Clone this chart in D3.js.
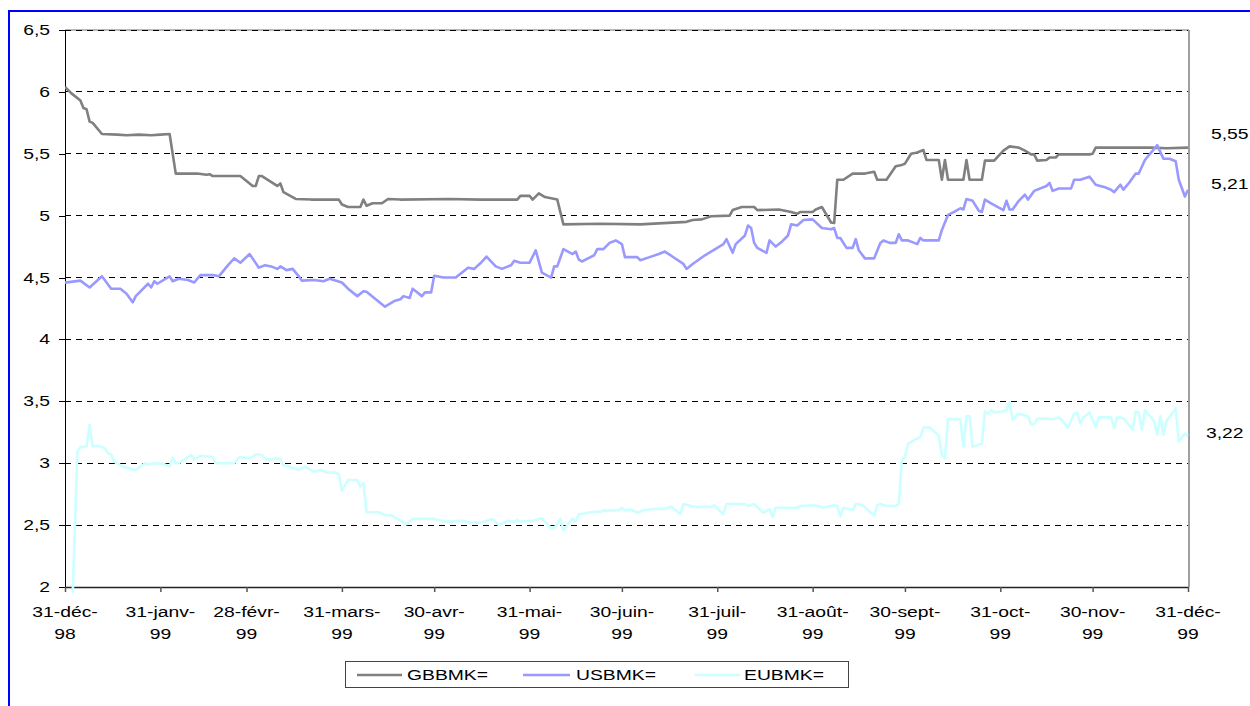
<!DOCTYPE html>
<html><head><meta charset="utf-8">
<script src="https://cdn.jsdelivr.net/npm/d3@7"></script>
<style>
body{margin:0;background:#fff;}
svg{display:block;}
text{font-family:"Liberation Sans",Arial,sans-serif;font-size:14px;fill:#000;}
</style>
</head><body>
<svg id="chart" width="1250" height="706"></svg>
<script>
// ---------- data ----------
const startDate = "1998-12-31";
const endDate = "1999-12-31";
const tickDates = ["1998-12-31","1999-01-31","1999-02-28","1999-03-31","1999-04-30","1999-05-31",
  "1999-06-30","1999-07-31","1999-08-31","1999-09-30","1999-10-31","1999-11-30","1999-12-31"];
const tickLabels = [["31-déc-","98"],["31-janv-","99"],["28-févr-","99"],["31-mars-","99"],["30-avr-","99"],
  ["31-mai-","99"],["30-juin-","99"],["31-juil-","99"],["31-août-","99"],["30-sept-","99"],
  ["31-oct-","99"],["30-nov-","99"],["31-déc-","99"]];
const yTicks = [2,2.5,3,3.5,4,4.5,5,5.5,6,6.5];
const seriesNames = ["GBBMK=","USBMK=","EUBMK="];
const seriesColors = ["#808080","#9999FF","#CCFFFF"];
const lastValueLabels = ["5,55","5,21","3,22"];

// days counted from 31-déc-98
const gbDays = [0,2,5,6,7,8,9,12,17,20,24,28,31,34,36,43,46,47,48,57,61,62,63,64,69,70,71,75,80,89,
  90,92,96,97,98,100,103,105,109,125,135,147,148,151,152,154,156,160,162,174,187,202,204,207,210,216,217,220,224,225,
  232,236,238,239,243,244,246,249,250,251,253,256,260,263,264,267,270,272,273,275,277,279,280,284,285,286,287,292,293,294,
  298,299,302,305,307,310,312,314,315,316,319,320,322,323,333,334,335,353,358,365];
const gbValues = [6.04,5.99,5.93,5.87,5.86,5.76,5.75,5.66,5.655,5.65,5.655,5.65,5.655,5.66,5.34,5.34,5.33,5.335,5.32,5.32,
  5.24,5.24,5.32,5.32,5.24,5.26,5.19,5.135,5.13,5.13,5.09,5.07,5.07,5.13,5.08,5.10,5.10,5.135,5.13,5.135,
  5.13,5.13,5.16,5.16,5.13,5.18,5.15,5.13,4.93,4.935,4.93,4.95,4.965,4.97,4.995,5.0,5.045,5.07,5.07,5.045,
  5.05,5.03,5.015,5.03,5.03,5.05,5.07,4.945,4.94,5.29,5.29,5.34,5.34,5.355,5.29,5.29,5.40,5.41,5.42,5.50,
  5.51,5.53,5.45,5.45,5.29,5.45,5.29,5.29,5.45,5.29,5.29,5.445,5.445,5.525,5.56,5.55,5.525,5.495,5.495,5.445,
  5.45,5.47,5.47,5.495,5.495,5.50,5.55,5.55,5.545,5.55];

const usDays = [0,5,8,12,15,18,20,22,23,27,28,29,30,34,35,37,40,42,44,48,50,53,55,57,60,63,65,67,69,70,
  72,74,76,77,81,84,86,90,92,95,97,98,104,107,109,110,112,113,116,117,119,120,123,127,131,133,135,137,140,142,
  145,146,148,151,153,155,158,159,160,162,165,166,167,168,170,172,173,175,177,179,181,182,186,187,190,193,195,198,201,202,
  204,208,210,212,214,215,217,218,221,222,223,224,225,228,229,231,233,235,236,238,240,243,246,249,250,251,252,254,256,257,
  258,260,263,265,266,268,270,271,272,274,275,277,278,279,284,285,287,289,291,292,293,295,297,298,299,301,305,306,307,308,
  310,312,313,315,319,320,321,323,327,328,330,333,335,338,340,341,343,344,346,348,349,351,355,357,359,361,362,364,365];
const usValues = [4.459,4.475,4.42,4.51,4.41,4.41,4.37,4.30,4.35,4.45,4.42,4.47,4.45,4.51,4.47,4.49,4.48,4.46,4.52,4.52,
  4.51,4.60,4.655,4.62,4.69,4.58,4.60,4.59,4.57,4.59,4.56,4.57,4.51,4.475,4.48,4.47,4.49,4.46,4.41,4.35,
  4.39,4.385,4.265,4.31,4.325,4.35,4.335,4.41,4.35,4.38,4.38,4.515,4.50,4.50,4.58,4.57,4.615,4.67,4.59,4.57,
  4.60,4.635,4.62,4.62,4.72,4.54,4.50,4.59,4.59,4.73,4.69,4.71,4.645,4.63,4.655,4.68,4.73,4.73,4.78,4.80,
  4.77,4.665,4.665,4.64,4.665,4.69,4.71,4.66,4.61,4.57,4.61,4.68,4.71,4.74,4.77,4.81,4.70,4.77,4.84,4.92,
  4.90,4.78,4.74,4.70,4.80,4.75,4.79,4.84,4.93,4.92,4.965,4.97,4.90,4.89,4.90,4.82,4.82,4.74,4.74,4.81,
  4.72,4.655,4.655,4.78,4.80,4.78,4.78,4.85,4.80,4.80,4.79,4.77,4.82,4.80,4.80,4.885,5.006,5.03,5.06,5.05,
  5.135,5.12,5.04,5.03,5.13,5.10,5.045,5.12,5.05,5.05,5.12,5.17,5.13,5.20,5.24,5.265,5.20,5.22,5.22,5.29,
  5.29,5.315,5.25,5.23,5.21,5.19,5.25,5.21,5.27,5.34,5.34,5.45,5.57,5.46,5.46,5.44,5.29,5.155,5.21];

const euDays = [0,4,5,7,8,9,11,13,14,15,16,19,21,22,23,26,27,29,32,34,35,36,37,41,42,44,48,49,55,56,
  57,60,62,64,65,67,69,70,71,72,76,78,81,83,85,88,89,90,92,95,96,97,98,102,104,106,111,113,120,124,
  129,132,135,139,141,144,146,147,148,152,155,158,159,161,162,165,166,167,170,173,174,175,176,180,181,182,184,186,188,191,
  195,197,200,201,204,206,208,210,211,214,215,221,222,224,227,229,230,231,238,239,243,245,246,250,251,252,253,256,257,259,
  263,264,265,267,270,271,272,273,274,277,278,279,281,284,285,286,287,291,292,293,294,295,298,299,300,301,302,305,306,307,
  308,310,313,314,315,316,319,321,323,324,326,328,329,330,331,333,335,336,340,341,342,344,347,348,349,350,351,354,355,356,
  357,358,361,362,363,364,365];
const euValues = [0,3.09,3.13,3.135,3.31,3.135,3.14,3.12,3.08,3.07,3.013,2.97,2.96,2.946,2.946,3.0,2.99,3.0,2.995,2.973,
  3.045,3.0,3.0,3.067,3.03,3.06,3.05,3.0,3.0,3.03,3.05,3.04,3.07,3.07,3.035,3.03,3.04,3.03,2.98,2.98,
  2.946,2.973,2.93,2.946,2.925,2.925,2.91,2.776,2.865,2.865,2.81,2.84,2.604,2.604,2.582,2.58,2.507,2.55,2.55,2.528,
  2.535,2.52,2.52,2.55,2.50,2.535,2.528,2.54,2.528,2.535,2.555,2.475,2.475,2.55,2.456,2.555,2.53,2.588,2.60,2.61,
  2.605,2.62,2.615,2.62,2.64,2.62,2.625,2.60,2.62,2.63,2.63,2.65,2.59,2.67,2.65,2.645,2.65,2.645,2.66,2.588,
  2.67,2.67,2.655,2.67,2.60,2.63,2.565,2.64,2.64,2.655,2.66,2.655,2.64,2.66,2.655,2.569,2.64,2.62,2.67,2.665,
  2.577,2.66,2.67,2.655,2.655,2.67,3.035,3.05,3.156,3.20,3.21,3.288,3.288,3.223,3.067,3.04,3.358,3.355,3.135,3.38,
  3.38,3.13,3.16,3.417,3.40,3.43,3.41,3.42,3.43,3.493,3.35,3.40,3.38,3.315,3.315,3.36,3.36,3.355,3.37,3.35,
  3.288,3.40,3.41,3.32,3.37,3.41,3.29,3.37,3.37,3.282,3.37,3.365,3.27,3.417,3.41,3.27,3.43,3.34,3.23,3.38,
  3.23,3.34,3.445,3.175,3.21,3.24,3.22];

// ---------- drawing ----------
const svg = d3.select("#chart");
const parse = d3.utcParse("%Y-%m-%d");
const base = parse(startDate);
const toDate = d => d3.utcDay.offset(base, d);

const L = 65, R = 1188, T = 30, B = 587;
const x = d3.scaleUtc().domain([base, parse(endDate)]).range([L, R]);
const y = d3.scaleLinear().domain([2, 6.5]).range([B, T]);
const SX = 1.38; // horizontal stretch of the original text rendering

function stretchedText(g, px, py, str, anchor) {
  g.append("g").attr("transform", `translate(${px},${py}) scale(${SX},1)`)
    .append("text").attr("text-anchor", anchor || "start").text(str);
}

// blue outer frame
svg.append("rect").attr("x", 9).attr("y", 11).attr("width", 1300).attr("height", 800)
  .attr("fill", "none").attr("stroke", "#0000FF").attr("stroke-width", 2);

// plot area border (top/right grey)
svg.append("line").attr("x1", L).attr("x2", R + 1).attr("y1", T).attr("y2", T)
  .attr("stroke", "#a0a0a0").attr("stroke-width", 1.5);
svg.append("line").attr("x1", R + 1).attr("x2", R + 1).attr("y1", T).attr("y2", B)
  .attr("stroke", "#a0a0a0").attr("stroke-width", 2);

// gridlines
svg.append("g").selectAll("line").data(yTicks.filter(v => v > 2)).join("line")
  .attr("x1", L).attr("x2", R).attr("y1", d => y(d)).attr("y2", d => y(d))
  .attr("stroke", "#000").attr("stroke-width", 1).attr("stroke-dasharray", "6,5")
  .attr("shape-rendering", "crispEdges");

// y axis
const yAxis = d3.axisLeft(y).tickValues(yTicks).tickSize(6).tickFormat("");
const gy = svg.append("g").attr("transform", `translate(${L},0)`).call(yAxis);
gy.selectAll("path,line").attr("stroke", "#000").attr("shape-rendering", "crispEdges");
yTicks.forEach(v => stretchedText(svg, 50, y(v) + 5, String(v).replace(".", ","), "end"));

// x axis
const xAxis = d3.axisBottom(x).tickValues(tickDates.map(parse)).tickSize(5).tickSizeOuter(0).tickFormat("");
const gx = svg.append("g").attr("transform", `translate(0,${B})`).call(xAxis);
gx.selectAll("path").attr("stroke", "#222").attr("stroke-width", 1.5);
gx.selectAll("line").attr("stroke", "#555").attr("stroke-width", 1.5);
tickDates.forEach((d, i) => {
  const px = x(parse(d));
  stretchedText(svg, px, 617, tickLabels[i][0], "middle");
  stretchedText(svg, px, 639, tickLabels[i][1], "middle");
});

// lines
svg.append("clipPath").attr("id", "plotclip").append("rect")
  .attr("x", L).attr("y", T - 5).attr("width", R - L + 2).attr("height", B - T + 11);
const line = d3.line().x(d => x(toDate(d[0]))).y(d => y(d[1]));
const series = [
  d3.zip(gbDays, gbValues),
  d3.zip(usDays, usValues),
  d3.zip(euDays, euValues)
];
const gLines = svg.append("g").attr("clip-path", "url(#plotclip)");
series.forEach((s, i) => {
  gLines.append("path").datum(s).attr("d", line)
    .attr("fill", "none").attr("stroke", seriesColors[i]).attr("stroke-width", 2.6)
    .attr("stroke-linejoin", "round");
});

// last value labels
const lastPos = [[1211, 139], [1211, 189], [1206, 438]];
lastValueLabels.forEach((t, i) => stretchedText(svg, lastPos[i][0], lastPos[i][1], t, "start"));

// legend
svg.append("rect").attr("x", 345.5).attr("y", 661.5).attr("width", 503).attr("height", 26)
  .attr("fill", "#fff").attr("stroke", "#444").attr("stroke-width", 1);
const legX = [[357, 402, 407], [523, 570, 576], [695, 740, 744]];
seriesNames.forEach((n, i) => {
  svg.append("line").attr("x1", legX[i][0]).attr("x2", legX[i][1]).attr("y1", 675).attr("y2", 675)
    .attr("stroke", seriesColors[i]).attr("stroke-width", 2.6);
  stretchedText(svg, legX[i][2], 680, n, "start");
});
</script>
</body></html>
